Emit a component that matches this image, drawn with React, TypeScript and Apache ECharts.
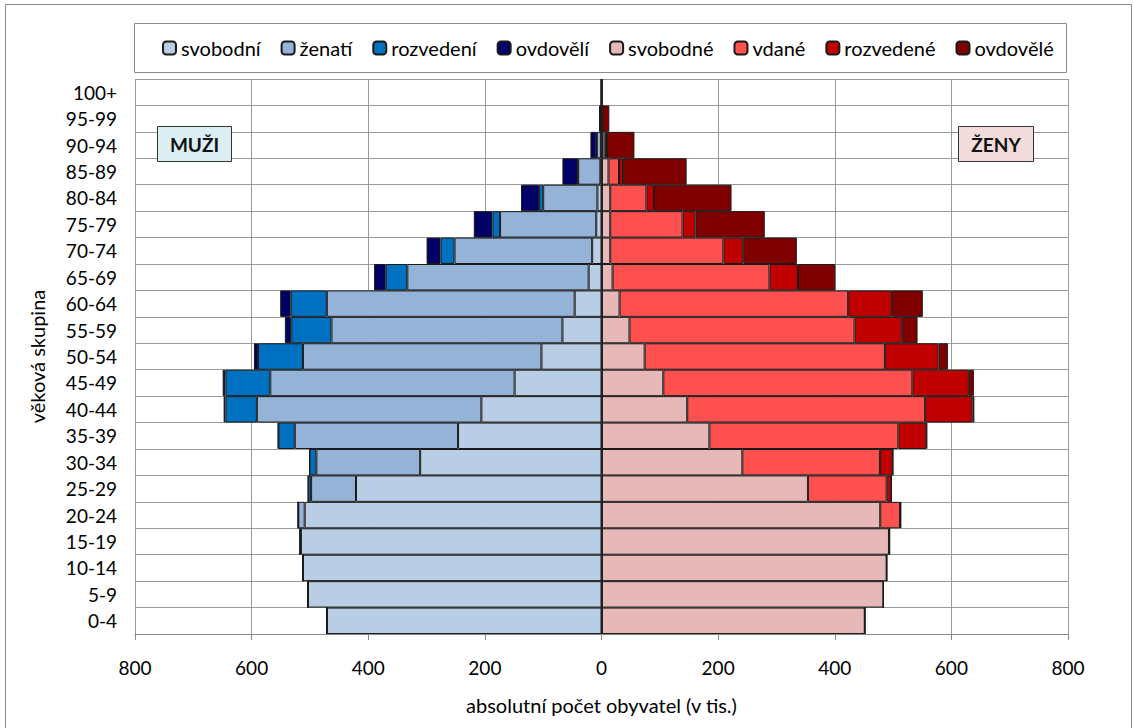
import React, { useEffect, useRef } from "react";
import * as echarts from "echarts";

const categories = ["0-4", "5-9", "10-14", "15-19", "20-24", "25-29", "30-34", "35-39", "40-44", "45-49", "50-54", "55-59", "60-64", "65-69", "70-74", "75-79", "80-84", "85-89", "90-94", "95-99", "100+"];

// muži (tis.)
const muziSvobodni = [471, 503.5, 512, 515.5, 509, 421, 311, 246, 206, 149, 103, 67, 46, 22, 16, 9, 7, 2, 1, 0.3, 0.1];
const muziZenati = [0, 0, 0, 1.5, 11, 77, 178, 280, 385, 419, 409, 396, 425, 311, 236, 165, 93, 38, 7, 1.5, 0.2];
const muziRozvedeni = [0, 0, 0, 0, 0.3, 5, 11.5, 28, 54, 77, 77, 69, 62, 37, 24, 13, 7, 1, 1, 0.2, 0.05];
const muziOvdoveli = [0, 0, 0, 0, 0, 0.2, 0.5, 1.2, 3, 4.6, 7, 11, 18, 20, 24, 32, 31, 26, 10, 2.2, 0.3];

// ženy (tis.)
const zenySvobodne = [451.5, 483.5, 489, 493, 478, 354, 241.5, 185, 147, 106, 74, 48, 31, 19, 15, 15, 15, 12, 5, 0.8, 0.2];
const zenyVdane = [0, 0, 0, 1, 34, 135, 236, 324, 408, 427, 412, 386, 392, 269, 194, 124, 62, 18, 3, 0.4, 0.1];
const zenyRozvedene = [0, 0, 0, 0, 1, 8, 22, 48, 81, 97, 92, 81, 75, 49, 34, 22, 13, 7, 1.5, 0.2, 0.1];
const zenyOvdovele = [0, 0, 0, 0, 0.3, 0.3, 0.5, 1.5, 3.4, 8.6, 16, 27, 53, 64, 92, 119, 133, 109, 47, 12, 1.5];

const xTicks = [-800, -600, -400, -200, 0, 200, 400, 600, 800];

const FONT = "Lato";

export default function App() {
  const ref = useRef<HTMLDivElement>(null);
  useEffect(() => {
    document.body.style.margin = "0";
    const chart = echarts.init(ref.current!, null, { renderer: "svg" });
    const mk = (name: string, data: number[], color: string, neg: boolean, extra: any = {}) => ({
      name,
      type: "bar",
      stack: "total",
      barCategoryGap: "0%",
      data: data.map((v) => (neg ? -v : v)),
      itemStyle: { color, borderColor: "#1a1a1a", borderWidth: 1 },
      emphasis: { disabled: true },
      ...extra,
    });
    chart.setOption({
      animation: false,
      textStyle: { fontFamily: FONT },
      graphic: [
        { type: "rect", shape: { x: 5.5, y: 4.5, width: 1126, height: 730 }, style: { fill: "none", stroke: "#8c8c8c", lineWidth: 1 }, z: -10 },
        { type: "rect", shape: { x: 134.5, y: 23.5, width: 932, height: 49 }, style: { fill: "#fff", stroke: "#8c8c8c", lineWidth: 1 }, z: -5 },
        { type: "rect", shape: { x: 157.5, y: 126.5, width: 74, height: 35 }, style: { fill: "#DBEEF4", stroke: "#333", lineWidth: 1 }, z: 10 },
        { type: "text", x: 194.5, y: 144, style: { text: "MUŽI", fontFamily: FONT, fontWeight: "bold", fontSize: 19, fill: "#111", align: "center", verticalAlign: "middle" }, z: 11 },
        { type: "rect", shape: { x: 958.5, y: 126.5, width: 75, height: 35 }, style: { fill: "#F2DCDB", stroke: "#333", lineWidth: 1 }, z: 10 },
        { type: "text", x: 996, y: 144, style: { text: "ŽENY", fontFamily: FONT, fontWeight: "bold", fontSize: 19, fill: "#111", align: "center", verticalAlign: "middle" }, z: 11 },
      ],
      legend: {
        left: 157,
        top: 33,
        itemWidth: 13,
        itemHeight: 13,
        itemGap: 20,
        textStyle: { fontFamily: FONT, fontSize: 20, color: "#000" },
        data: ["svobodní", "ženatí", "rozvedení", "ovdovělí", "svobodné", "vdané", "rozvedené", "ovdovělé"],
      },
      grid: { left: 135, right: 66, top: 79, bottom: 94 },
      xAxis: {
        type: "value",
        min: -800,
        max: 800,
        interval: 200,
        name: "absolutní počet obyvatel (v tis.)",
        nameLocation: "middle",
        nameGap: 61,
        nameTextStyle: { fontFamily: FONT, fontSize: 20, color: "#000" },
        axisLine: { show: true, lineStyle: { color: "#888" } },
        axisTick: { show: true, length: 6, lineStyle: { color: "#888" } },
        axisLabel: {
          fontFamily: FONT,
          fontSize: 19,
          color: "#000",
          margin: 24,
          formatter: (v: number) => (xTicks.includes(v) ? String(Math.abs(v)) : ""),
        },
        splitLine: { show: true, lineStyle: { color: "#999", width: 1 } },
      },
      yAxis: {
        type: "category",
        data: categories,
        name: "věková skupina",
        nameLocation: "middle",
        nameGap: 88,
        nameRotate: 90,
        nameTextStyle: { fontFamily: FONT, fontSize: 20, color: "#000" },
        axisLine: { show: false },
        axisTick: { show: false },
        axisLabel: { fontFamily: FONT, fontSize: 19, color: "#000", margin: 18 },
        splitLine: { show: true, lineStyle: { color: "#999", width: 1 } },
      },
      series: [
        mk("svobodní", muziSvobodni, "#B9CDE5", true),
        mk("ženatí", muziZenati, "#95B3D7", true),
        mk("rozvedení", muziRozvedeni, "#0070C0", true),
        mk("ovdovělí", muziOvdoveli, "#000066", true),
        mk("svobodné", zenySvobodne, "#E6B9B8", false),
        mk("vdané", zenyVdane, "#FF5050", false),
        mk("rozvedené", zenyRozvedene, "#C00000", false),
        mk("ovdovělé", zenyOvdovele, "#800000", false, {
          markLine: {
            silent: true,
            symbol: "none",
            label: { show: false },
            lineStyle: { color: "#222", width: 2, type: "solid" },
            data: [{ xAxis: 0 }],
          },
        }),
      ],
    });
    return () => chart.dispose();
  }, []);
  return <div ref={ref} style={{ position: "absolute", left: 0, top: 0, width: 1134, height: 728 }} />;
}
